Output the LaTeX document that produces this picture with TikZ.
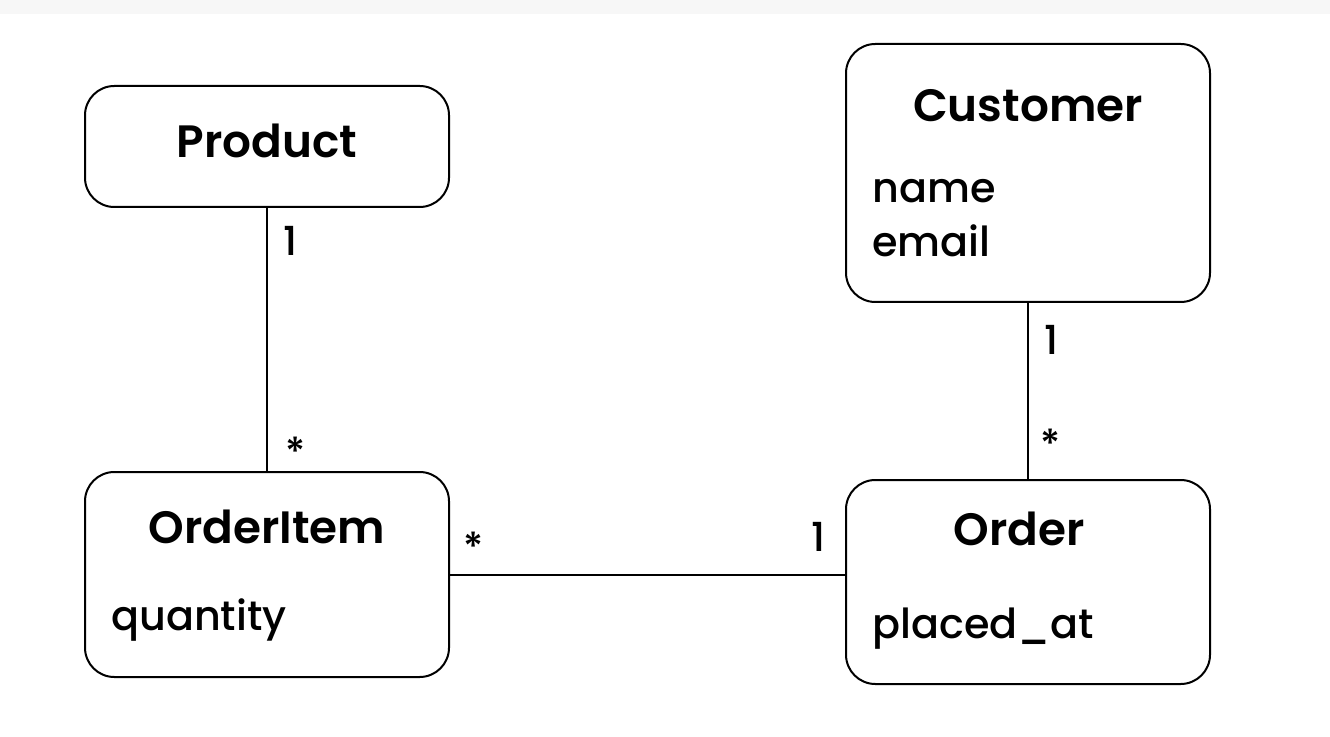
\documentclass[tikz,border=0pt]{standalone}
\usepackage{fontspec}
\setmainfont{Poppins}[BoldFont={Poppins SemiBold}]
\newfontfamily\attrfont{Poppins Medium}
\usetikzlibrary{positioning}

\begin{document}
\begin{tikzpicture}[
  x=0.75pt, y=-0.75pt,
  every node/.style={inner sep=0pt},
  % Classes - rounded boxes
  classbox/.style={rectangle, draw=black, line width=1.5pt, rounded corners=22pt, minimum width=273pt},
  classname/.style={anchor=base, font=\fontsize{34}{40}\selectfont\bfseries},
  attr/.style={anchor=base west, font=\fontsize{31}{36}\attrfont},
  % Associations and multiplicities
  assoc/.style={draw=black, line width=1.5pt},
  mult/.style={anchor=base, font=\fontsize{30}{36}\attrfont}
]

\useasboundingbox (0,0) rectangle (1330,737);
\fill[black!3] (0,0) rectangle (1330,14);

% === NODES (Classes) ===

% Product
\node[classbox, minimum height=90.75pt] (product) at (267,146.5) {};
\node[classname] (productname) at (267,158) {Product};

% Customer
\node[classbox, minimum height=193.5pt] (customer) at (1028,173) {};
\node[classname] (customername) at (1028,122) {Customer};
\node[attr] (customername2) at (872,203) {name};
\node[attr] (customeremail) at (872,257) {email};

% OrderItem
\node[classbox, minimum height=153.75pt] (orderitem) at (267,574.5) {};
\node[classname] (orderitemname) at (267,543) {OrderItem};
\node[attr] (orderitemattr) at (111,630) {quantity};

% Order
\node[classbox, minimum height=153pt] (order) at (1028,582) {};
\node[classname] (ordername) at (1019,545) {Order};
\node[attr] (orderattr) at (872,638) {placed\_at};

% === EDGES (Associations) ===

% Product 1 -- * OrderItem
\draw[assoc] (product.south) -- (orderitem.north);
\node[mult] (m1) at (290,256) {1};
\node[mult] (m2) at (296,466) {*};

% Customer 1 -- * Order
\draw[assoc] (customer.south) -- (order.north);
\node[mult] (m3) at (1051,355) {1};
\node[mult] (m4) at (1051,458) {*};

% OrderItem * -- 1 Order
\draw[assoc] (orderitem.east |- 0,575) -- (order.west |- 0,575);
\node[mult] (m5) at (474,561) {*};
\node[mult] (m6) at (818,551) {1};

\end{tikzpicture}
\end{document}
